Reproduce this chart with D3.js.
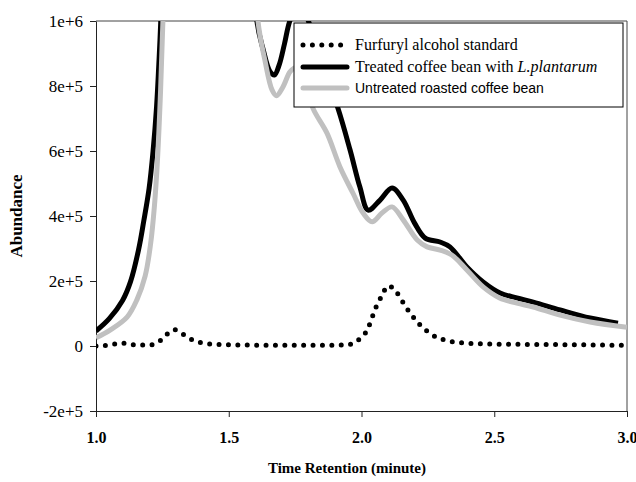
<!DOCTYPE html>
<html>
<head>
<meta charset="utf-8">
<script src="https://cdn.jsdelivr.net/npm/d3@7"></script>
<style>
  html, body { margin: 0; padding: 0; background: #fff; }
  svg { display: block; }
</style>
</head>
<body>
<svg id="chart" width="636" height="482"></svg>
<script>
// Retention time (min) and abundance for each chromatogram trace
const standardTime = [1.00, 1.05, 1.10, 1.14, 1.20, 1.24, 1.27, 1.295, 1.32, 1.35, 1.39, 1.45, 1.55, 1.70, 1.85, 1.95, 1.99, 2.025, 2.04, 2.055, 2.075, 2.10, 2.13, 2.155, 2.18, 2.21, 2.245, 2.28, 2.32, 2.36, 2.45, 2.60, 2.80, 3.00];
const standardAbundance = [0, 3000, 9000, 4000, 3000, 15000, 38000, 50000, 40000, 24000, 11000, 5000, 3000, 2000, 2000, 4000, 20000, 55000, 88000, 120000, 152000, 185000, 168000, 136000, 105000, 74000, 47000, 28000, 17000, 11000, 7000, 5000, 4000, 2000];

const treatedTime = [1.00, 1.05, 1.10, 1.13, 1.16, 1.18, 1.20, 1.215, 1.228, 1.238, 1.246, 1.26, 1.30, 1.45, 1.56, 1.606, 1.63, 1.655, 1.672, 1.69, 1.71, 1.73, 1.765, 1.80, 1.85, 1.911, 1.957, 1.994, 2.025, 2.07, 2.115, 2.157, 2.20, 2.24, 2.296, 2.333, 2.397, 2.458, 2.522, 2.585, 2.647, 2.748, 2.861, 2.966];
const treatedAbundance = [46000, 84000, 140000, 198000, 295000, 385000, 485000, 600000, 735000, 890000, 1040000, 1400000, 2600000, 3000000, 1800000, 1000000, 911000, 845000, 834000, 865000, 930000, 1000000, 1060000, 1000000, 870000, 732000, 603000, 489000, 418000, 449000, 486000, 449000, 378000, 332000, 320000, 305000, 243000, 197000, 163000, 148000, 135000, 111000, 86000, 70000];

const untreatedTime = [1.00, 1.053, 1.117, 1.154, 1.185, 1.205, 1.22, 1.232, 1.242, 1.252, 1.27, 1.32, 1.45, 1.57, 1.61, 1.636, 1.663, 1.68, 1.704, 1.73, 1.746, 1.77, 1.795, 1.817, 1.87, 1.919, 1.968, 2.006, 2.04, 2.077, 2.115, 2.157, 2.21, 2.247, 2.296, 2.34, 2.397, 2.458, 2.52, 2.585, 2.647, 2.748, 2.861, 3.00];
const untreatedAbundance = [25000, 49000, 89000, 142000, 215000, 310000, 430000, 580000, 760000, 1000000, 1500000, 2400000, 2800000, 1600000, 1000000, 880000, 788000, 770000, 797000, 843000, 855000, 860000, 800000, 732000, 655000, 551000, 470000, 409000, 382000, 409000, 428000, 388000, 326000, 305000, 295000, 280000, 234000, 182000, 148000, 132000, 120000, 95000, 74000, 58000];

const xTicks = [1.0, 1.5, 2.0, 2.5, 3.0];
const xTickLabels = ["1.0", "1.5", "2.0", "2.5", "3.0"];
const yTicks = [-200000, 0, 200000, 400000, 600000, 800000, 1000000];
const yTickLabels = ["-2e+5", "0", "2e+5", "4e+5", "6e+5", "8e+5", "1e+6"];

const seriesNames = ["Furfuryl alcohol standard", "Treated coffee bean with ", "Untreated roasted coffee bean"];

const serif = "'Liberation Serif', 'Times New Roman', serif";
const sans = "'Liberation Sans', Arial, sans-serif";

const svg = d3.select("#chart");
const plot = { left: 96, right: 627, top: 21, bottom: 411 };

const x = d3.scaleLinear().domain([1, 3]).range([plot.left, plot.right]);
const y = d3.scaleLinear().domain([-200000, 1000000]).range([plot.bottom, plot.top]);

svg.append("defs").append("clipPath").attr("id", "plotClip")
  .append("rect")
  .attr("x", plot.left).attr("y", plot.top)
  .attr("width", plot.right - plot.left).attr("height", plot.bottom - plot.top);

// plot area frame (top and right edges)
svg.append("path")
  .attr("d", `M${plot.left},${plot.top}H${plot.right}V${plot.bottom}`)
  .attr("fill", "none").attr("stroke", "#444").attr("stroke-width", 1);

// axes
const xAxis = d3.axisBottom(x).tickValues(xTicks)
  .tickFormat((d, i) => xTickLabels[i]).tickSize(6).tickSizeOuter(0);
const yAxis = d3.axisLeft(y).tickValues(yTicks)
  .tickFormat((d, i) => yTickLabels[i]).tickSize(6).tickSizeOuter(0);

const gx = svg.append("g").attr("transform", `translate(0,${plot.bottom})`).call(xAxis);
gx.select(".domain").attr("stroke", "#222");
gx.selectAll(".tick line").attr("stroke", "#222");
gx.selectAll(".tick text")
  .attr("font-family", serif).attr("font-size", 16).attr("font-weight", "bold")
  .attr("fill", "#000").attr("dy", 0).attr("y", 32);

const gy = svg.append("g").attr("transform", `translate(${plot.left},0)`).call(yAxis);
gy.select(".domain").attr("stroke", "#222");
gy.selectAll(".tick line").attr("stroke", "#222");
gy.selectAll(".tick text")
  .attr("font-family", serif).attr("font-size", 17)
  .attr("fill", "#000").attr("x", -13);

// axis titles
svg.append("text")
  .attr("x", 347).attr("y", 473)
  .attr("text-anchor", "middle")
  .attr("font-family", serif).attr("font-size", 15).attr("font-weight", "bold")
  .text("Time Retention (minute)");

svg.append("text")
  .attr("transform", "translate(22,216) rotate(-90)")
  .attr("text-anchor", "middle")
  .attr("font-family", serif).attr("font-size", 17).attr("font-weight", "bold")
  .text("Abundance");

// traces
const lineGen = d3.line()
  .x(d => x(d[0])).y(d => y(d[1]))
  .curve(d3.curveCatmullRom.alpha(0.5));

const traces = svg.append("g").attr("clip-path", "url(#plotClip)");

traces.append("path")
  .datum(d3.zip(standardTime, standardAbundance))
  .attr("d", lineGen.curve(d3.curveMonotoneX))
  .attr("fill", "none").attr("stroke", "#000")
  .attr("stroke-width", 5).attr("stroke-linecap", "round")
  .attr("stroke-dasharray", "0,9.4");

lineGen.curve(d3.curveCatmullRom.alpha(0.5));

traces.append("path")
  .datum(d3.zip(treatedTime, treatedAbundance))
  .attr("d", lineGen)
  .attr("fill", "none").attr("stroke", "#000")
  .attr("stroke-width", 5).attr("stroke-linejoin", "round");

traces.append("path")
  .datum(d3.zip(untreatedTime, untreatedAbundance))
  .attr("d", lineGen)
  .attr("fill", "none").attr("stroke", "#c0c0c0")
  .attr("stroke-width", 5).attr("stroke-linejoin", "round");

// legend
const legend = svg.append("g");
legend.append("rect")
  .attr("x", 294).attr("y", 23).attr("width", 329).attr("height", 84)
  .attr("fill", "#fff").attr("stroke", "#000").attr("stroke-width", 1);

const rows = [45, 67, 88];
legend.append("line")
  .attr("x1", 303).attr("x2", 347).attr("y1", rows[0]).attr("y2", rows[0])
  .attr("stroke", "#000").attr("stroke-width", 5).attr("stroke-linecap", "round")
  .attr("stroke-dasharray", "0,9.4");
legend.append("line")
  .attr("x1", 303).attr("x2", 347).attr("y1", rows[1]).attr("y2", rows[1])
  .attr("stroke", "#000").attr("stroke-width", 5).attr("stroke-linecap", "round");
legend.append("line")
  .attr("x1", 303).attr("x2", 347).attr("y1", rows[2]).attr("y2", rows[2])
  .attr("stroke", "#c0c0c0").attr("stroke-width", 5).attr("stroke-linecap", "round");

legend.append("text")
  .attr("x", 355).attr("y", rows[0] + 5)
  .attr("font-family", serif).attr("font-size", 16)
  .text(seriesNames[0]);
const t2 = legend.append("text")
  .attr("x", 355).attr("y", rows[1] + 5)
  .attr("font-family", serif).attr("font-size", 16);
t2.append("tspan").text(seriesNames[1]);
t2.append("tspan").attr("font-style", "italic").text("L.plantarum");
legend.append("text")
  .attr("x", 355).attr("y", rows[2] + 5)
  .attr("font-family", sans).attr("font-size", 14)
  .text(seriesNames[2]);
</script>
</body>
</html>
